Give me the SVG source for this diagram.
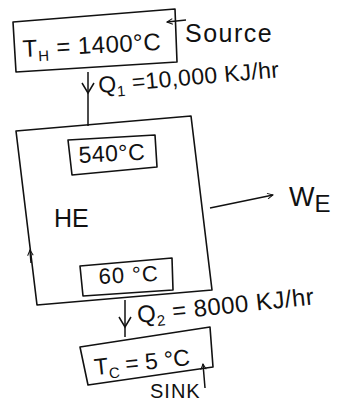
<svg xmlns="http://www.w3.org/2000/svg" width="347" height="402" viewBox="0 0 347 402">
<defs>
<marker id="ah" viewBox="0 0 10 10" refX="9" refY="5" markerWidth="7" markerHeight="7" orient="auto-start-reverse" markerUnits="userSpaceOnUse">
<path d="M1,1 L9,5 L1,9" fill="none" stroke="#111" stroke-width="1.4"/>
</marker>
<style>
.b{fill:none;stroke:#111;stroke-width:1.6;stroke-linejoin:round}
.c{fill:none;stroke:#111;stroke-width:1.5}
text{font-family:"Liberation Sans","DejaVu Sans",sans-serif;fill:#111}
</style>
</defs>
<rect width="347" height="402" fill="#fff"/>
<g id="source">
<polygon class="b" points="13,22 175,9 177,62 16,72"/>
<text x="23" y="57" font-size="24" letter-spacing="0.5" transform="rotate(-3 23 57)">T<tspan font-size="15" dy="5">H</tspan><tspan dy="-5"> = 1400°C</tspan></text>
<text x="185" y="42" font-size="25" letter-spacing="1.5">Source</text>
</g>
<g id="he">
<polygon class="b" points="16,131 191,116 212,290 37,305"/>
<polygon class="b" points="68,140 155,135 157,167 72,175"/>
<text x="79" y="163" font-size="23" letter-spacing="0.5" transform="rotate(-3 79 163)">540°C</text>
<text x="54" y="227" font-size="25">HE</text>
<polygon class="b" points="80,266 172,258 173,290 83,296"/>
<text x="99" y="284" font-size="22" letter-spacing="1" transform="rotate(-3 99 284)">60 °C</text>
</g>
<g id="sink">
<polygon class="b" points="80,347 210,327 213,367 88,385"/>
<text x="95" y="375" font-size="23" transform="rotate(-6 95 375)">T<tspan font-size="15" dy="5">C</tspan><tspan dy="-5"> = 5 °C</tspan></text>
<text x="150" y="398" font-size="20" letter-spacing="1">SINK</text>
</g>
<g id="work">
<text x="289" y="206" font-size="27">W<tspan font-size="24" dy="6">E</tspan></text>
</g>
<g id="connectors">
<line class="c" x1="186" y1="20" x2="167" y2="22" marker-end="url(#ah)"/>
<line class="c" x1="88" y1="72" x2="88" y2="126"/>
<path class="c" d="M82,83 L88,93 L94,83"/>
<text x="99" y="93" font-size="23" letter-spacing="0.3" transform="rotate(-5 99 93)">Q<tspan font-size="15" dy="5">1</tspan><tspan dy="-5"> =10,000 KJ/hr</tspan></text>
<line class="c" x1="210" y1="208" x2="273" y2="195" marker-end="url(#ah)"/>
<line class="c" x1="31" y1="263" x2="30" y2="250" marker-end="url(#ah)"/>
<line class="c" x1="125" y1="300" x2="125" y2="337"/>
<path class="c" d="M119,317 L125,327 L131,317"/>
<text x="138" y="323" font-size="24" letter-spacing="0.5" transform="rotate(-6 138 323)">Q<tspan font-size="15" dy="5">2</tspan><tspan dy="-5"> = 8000 KJ/hr</tspan></text>
<line class="c" x1="205" y1="388" x2="203" y2="364" marker-end="url(#ah)"/>
</g>
</svg>
